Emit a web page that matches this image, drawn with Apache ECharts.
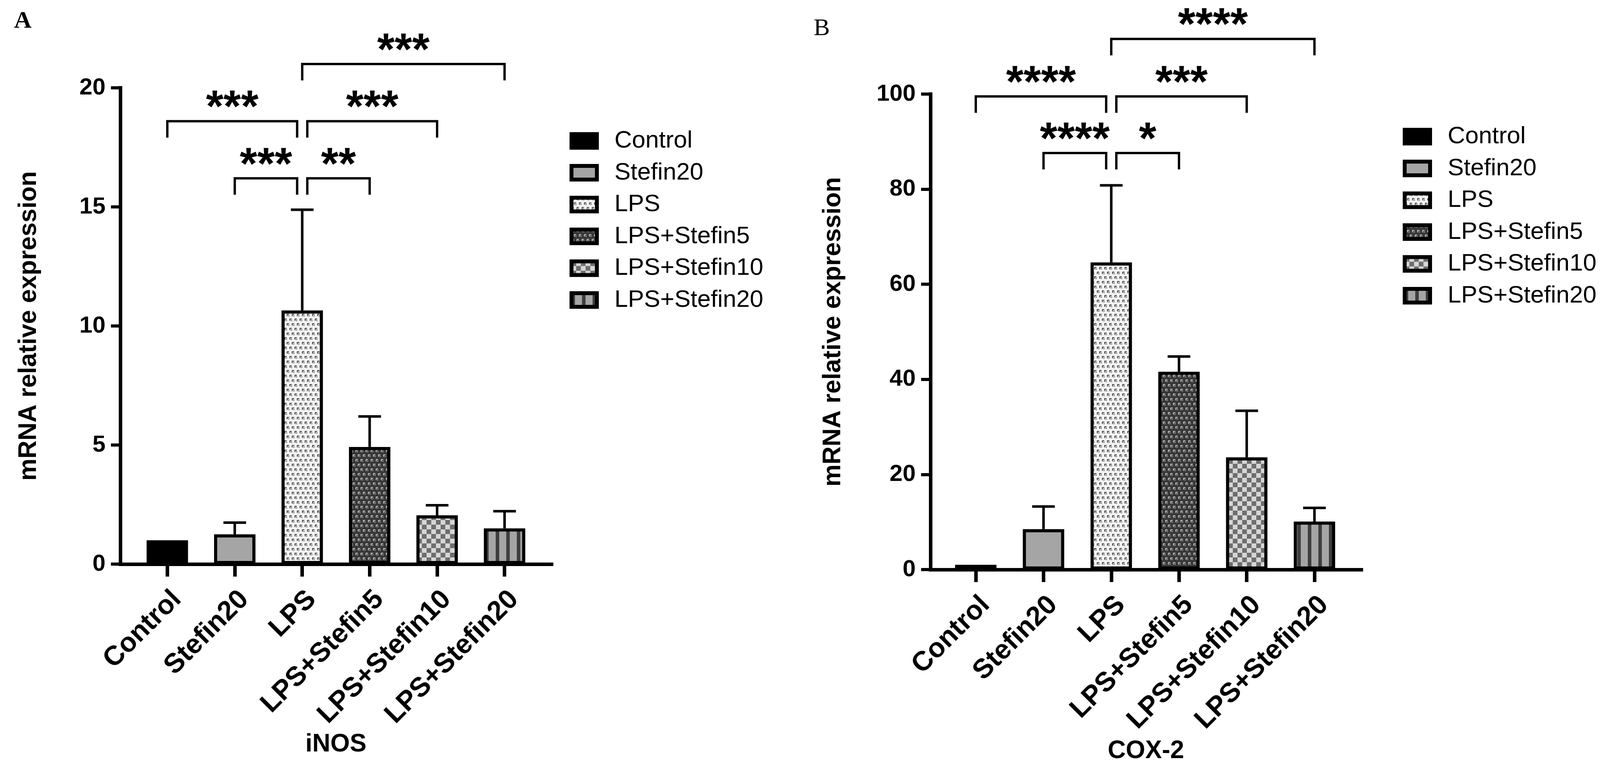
<!DOCTYPE html>
<html>
<head>
<meta charset="utf-8">
<script src="https://cdn.jsdelivr.net/npm/echarts/dist/echarts.min.js"></script>
<style>
html,body{margin:0;padding:0;background:#ffffff;}
#chart{width:4131px;height:1975px;}
</style>
</head>
<body>
<div id="chart"></div>
<script>
// ---------------- data ----------------
const categories = ['Control', 'Stefin20', 'LPS', 'LPS+Stefin5', 'LPS+Stefin10', 'LPS+Stefin20'];

// iNOS: bar means and top of (upper-only) error bars
const inosMean  = [1.0, 1.25, 10.65, 4.92, 2.05, 1.50];
const inosUpper = [1.0, 1.74, 14.88, 6.20, 2.47, 2.22];
const inosTicks = [0, 5, 10, 15, 20];

// COX-2
const coxMean  = [1.0, 8.5, 64.6, 41.6, 23.6, 10.1];
const coxUpper = [1.0, 13.26, 80.8, 44.8, 33.4, 12.97];
const coxTicks = [0, 20, 40, 60, 80, 100];

// significance brackets: from/to category index, bracket height in data units, label
const inosSig = [
  { from: 2, to: 5, y: 21.0, label: '***' },
  { from: 0, to: 2, y: 18.6, label: '***' },
  { from: 2, to: 4, y: 18.6, label: '***' },
  { from: 1, to: 2, y: 16.2, label: '***' },
  { from: 2, to: 3, y: 16.2, label: '**' }
];
const coxSig = [
  { from: 2, to: 5, y: 111.6, label: '****' },
  { from: 0, to: 2, y: 99.5, label: '****' },
  { from: 2, to: 4, y: 99.5, label: '***' },
  { from: 1, to: 2, y: 87.6, label: '****' },
  { from: 2, to: 3, y: 87.6, label: '*' }
];

// ---------------- patterns ----------------
function makePattern(kind) {
  const c = document.createElement('canvas');
  const g = c.getContext('2d');
  if (kind === 'lps' || kind === 'lps5') {
    c.width = 26; c.height = 24;
    const bg = kind === 'lps' ? '#f3f3f3' : '#383838';
    const mark = kind === 'lps' ? '#3a3a3a' : '#c8c8c8';
    const mid = kind === 'lps' ? '#9c9c9c' : '#787878';
    g.fillStyle = bg; g.fillRect(0, 0, 26, 24);
    [[0, 0], [13, 0], [6, 12], [19, 12]].forEach(function (p) {
      g.fillStyle = mark;
      g.fillRect(p[0], p[1], 6, 2);
      g.fillRect(p[0], p[1], 2, 6);
      g.fillStyle = mid;
      g.fillRect(p[0] + 3, p[1] + 3, 4, 4);
    });
  } else if (kind === 'checker') {
    c.width = 24; c.height = 24;
    g.fillStyle = '#d6d6d6'; g.fillRect(0, 0, 24, 24);
    g.fillStyle = '#6e6e6e';
    g.fillRect(0, 0, 12, 12); g.fillRect(12, 12, 12, 12);
  } else if (kind === 'stripes') {
    c.width = 27; c.height = 4;
    g.fillStyle = '#a5a5a5'; g.fillRect(0, 0, 27, 4);
    g.fillStyle = '#3e3e3e'; g.fillRect(0, 0, 9, 4);
  }
  return { image: c, repeat: 'repeat' };
}
const fills = [
  '#000000',
  '#a5a5a5',
  makePattern('lps'),
  makePattern('lps5'),
  makePattern('checker'),
  makePattern('stripes')
];

// ---------------- helpers ----------------
const FONT = '"Liberation Sans", Arial, sans-serif';
const GAP = 13;       // px gap where two brackets meet at one column
const LEG = 42;       // bracket leg length, px
const STAR_UP = 31;   // text anchor offset above bracket line, px

function bracketRender(sig) {
  return function (params, api) {
    const s = sig[params.dataIndex];
    const p1 = api.coord([s.from, s.y]);
    const p2 = api.coord([s.to, s.y]);
    const shares = function (idx) {
      return sig.some(function (o) { return o !== s && o.y === s.y && (o.from === idx || o.to === idx); });
    };
    const x1 = p1[0] + (shares(s.from) ? GAP : 0);
    const x2 = p2[0] - (shares(s.to) ? GAP : 0);
    const y = p1[1];
    return {
      type: 'group',
      children: [
        { type: 'polyline', shape: { points: [[x1, y + LEG], [x1, y], [x2, y], [x2, y + LEG]] },
          style: { stroke: '#000', lineWidth: 6, fill: 'none' } },
        { type: 'text', x: (x1 + x2) / 2, y: y - STAR_UP,
          style: { text: s.label, fill: '#000', font: 'bold 115px ' + FONT, align: 'center', verticalAlign: 'middle' } }
      ]
    };
  };
}

function errRender(params, api) {
  const i = api.value(0), m = api.value(1), u = api.value(2);
  if (!(u > m)) return null;
  const pb = api.coord([i, m]);
  const pt = api.coord([i, u]);
  return {
    type: 'group',
    children: [
      { type: 'line', shape: { x1: pb[0], y1: pb[1], x2: pt[0], y2: pt[1] }, style: { stroke: '#000', lineWidth: 6.5 } },
      { type: 'line', shape: { x1: pt[0] - 29, y1: pt[1], x2: pt[0] + 29, y2: pt[1] }, style: { stroke: '#000', lineWidth: 6.5 } }
    ]
  };
}

function barSeries(means, xIdx, yIdx) {
  return categories.map(function (name, i) {
    return {
      name: name,
      type: 'bar',
      xAxisIndex: xIdx,
      yAxisIndex: yIdx,
      barWidth: 106,
      barGap: '-100%',
      z: 2,
      itemStyle: { color: fills[i], borderColor: '#000', borderWidth: 8 },
      data: categories.map(function (c, j) { return j === i ? means[i] : '-'; })
    };
  });
}

function frameX(gridIndex, name, gap) {
  return {
    gridIndex: gridIndex, type: 'value', min: 0, max: 1,
    axisLine: { show: true, lineStyle: { color: '#000', width: 9, cap: 'square' } },
    axisTick: { show: false }, axisLabel: { show: false }, splitLine: { show: false },
    name: name, nameLocation: 'middle', nameGap: gap,
    nameTextStyle: { fontFamily: FONT, fontWeight: 'bold', fontSize: 64, color: '#000' }
  };
}
function barX(gridIndex) {
  return {
    gridIndex: gridIndex, type: 'category', data: categories, boundaryGap: true,
    axisLine: { show: false },
    axisTick: { show: true, alignWithLabel: true, length: 32, lineStyle: { color: '#000', width: 9 } },
    axisLabel: { interval: 0, rotate: 45, margin: 55, align: 'right', verticalAlign: 'top',
      fontFamily: FONT, fontWeight: 'bold', fontSize: 70, color: '#000' },
    splitLine: { show: false }
  };
}
function frameY(gridIndex, ticks, gap) {
  return {
    gridIndex: gridIndex, type: 'value', min: ticks[0], max: ticks[ticks.length - 1],
    interval: ticks[1] - ticks[0],
    axisLine: { show: true, lineStyle: { color: '#000', width: 9, cap: 'square' } },
    axisTick: { show: true, length: 24, lineStyle: { color: '#000', width: 8 } },
    axisLabel: { margin: 38, fontFamily: FONT, fontWeight: 'bold', fontSize: 60, color: '#000' },
    splitLine: { show: false },
    name: 'mRNA relative expression', nameLocation: 'middle', nameGap: gap, nameRotate: 90,
    nameTextStyle: { fontFamily: FONT, fontWeight: 'bold', fontSize: 64, color: '#000' }
  };
}
function hiddenY(gridIndex, ticks) {
  return { gridIndex: gridIndex, type: 'value', show: false, min: ticks[0], max: ticks[ticks.length - 1],
    splitLine: { show: false } };
}
function legendAt(left, top) {
  return {
    data: categories, orient: 'vertical', left: left, top: top, padding: 0,
    itemWidth: 65, itemHeight: 35, itemGap: 19.5, icon: 'rect', selectedMode: false,
    itemStyle: { borderColor: '#000', borderWidth: 10 },
    textStyle: { fontFamily: FONT, fontSize: 62, color: '#000', padding: [0, 0, 0, 40] }
  };
}

const option = {
  animation: false,
  backgroundColor: '#ffffff',
  title: [
    { text: 'A', left: 36, top: 24, padding: 0,
      textStyle: { fontFamily: '"Liberation Serif", "Times New Roman", serif', fontWeight: 'bold', fontSize: 62, color: '#000' } },
    { text: 'B', left: 2083, top: 43, padding: 0,
      textStyle: { fontFamily: '"Liberation Serif", "Times New Roman", serif', fontWeight: 'normal', fontSize: 62, color: '#000' } }
  ],
  legend: [legendAt(1458, 330), legendAt(3591, 319)],
  grid: [
    { left: 308, top: 225, width: 1104, height: 1220, outerBoundsMode: 'none' },
    { left: 342, top: 225, width: 1036, height: 1220, outerBoundsMode: 'none' },
    { left: 2382, top: 241, width: 1103, height: 1218, outerBoundsMode: 'none' },
    { left: 2411.3, top: 241, width: 1040.4, height: 1218, outerBoundsMode: 'none' }
  ],
  xAxis: [frameX(0, 'iNOS', 430), barX(1), frameX(2, 'COX-2', 433), barX(3)],
  yAxis: [frameY(0, inosTicks, 202), hiddenY(1, inosTicks), frameY(2, coxTicks, 217), hiddenY(3, coxTicks)],
  series: [].concat(
    barSeries(inosMean, 1, 1),
    barSeries(coxMean, 3, 3),
    [
      { type: 'custom', name: 'iNOS error', xAxisIndex: 1, yAxisIndex: 1, z: 3, clip: false,
        renderItem: errRender, encode: { x: 0, y: [1, 2] },
        data: categories.map(function (c, i) { return [i, inosMean[i], inosUpper[i]]; }) },
      { type: 'custom', name: 'COX-2 error', xAxisIndex: 3, yAxisIndex: 3, z: 3, clip: false,
        renderItem: errRender, encode: { x: 0, y: [1, 2] },
        data: categories.map(function (c, i) { return [i, coxMean[i], coxUpper[i]]; }) },
      { type: 'custom', name: 'iNOS sig', xAxisIndex: 1, yAxisIndex: 1, z: 4, clip: false,
        renderItem: bracketRender(inosSig), encode: { x: [0, 1], y: 2 },
        data: inosSig.map(function (s) { return [s.from, s.to, s.y]; }) },
      { type: 'custom', name: 'COX-2 sig', xAxisIndex: 3, yAxisIndex: 3, z: 4, clip: false,
        renderItem: bracketRender(coxSig), encode: { x: [0, 1], y: 2 },
        data: coxSig.map(function (s) { return [s.from, s.to, s.y]; }) }
    ]
  )
};

const chart = echarts.init(document.getElementById('chart'), null, { renderer: 'canvas' });
chart.setOption(option);
</script>
</body>
</html>
